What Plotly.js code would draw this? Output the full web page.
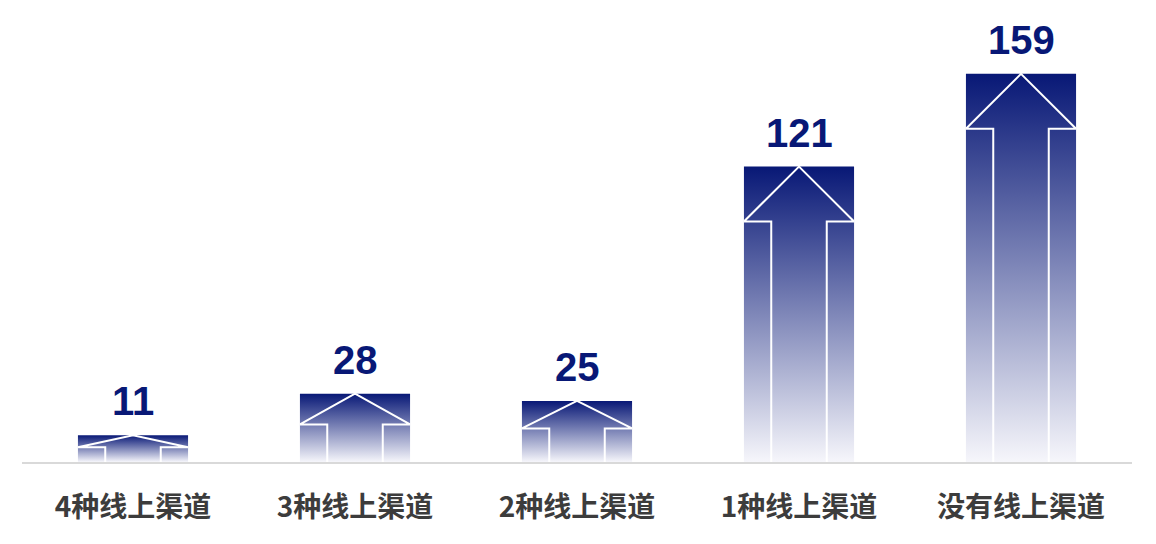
<!DOCTYPE html>
<html>
<head>
<meta charset="utf-8">
<script src="https://cdn.plot.ly/plotly-3.0.1.min.js"></script>
<style>html,body{margin:0;padding:0;background:#fff;}#chart{width:1156px;height:544px;}</style>
</head>
<body>
<div id="chart"></div>
<script>
const categories = ["4种线上渠道", "3种线上渠道", "2种线上渠道", "1种线上渠道", "没有线上渠道"];
const values = [11, 28, 25, 121, 159];

const NAVY = "rgb(8,24,118)";
const HALF = 0.248;      // half bar width (category units)
const SHAFT = 0.125;     // half shaft width
const HEAD_MAX = 22.5;   // max head height (value units)
const HEAD_FRAC = 0.45;

const traces = [];
values.forEach((v, i) => {
  traces.push({
    type: "scatter", mode: "lines",
    x: [i - HALF, i + HALF, i + HALF, i - HALF, i - HALF],
    y: [0, 0, v, v, 0],
    fill: "toself",
    line: {width: 0, color: "rgba(0,0,0,0)"},
    fillgradient: {type: "vertical", colorscale: [[0, "rgb(246,246,251)"], [1, "rgb(8,24,118)"]]},
    hoverinfo: "skip", showlegend: false
  });
  const h = Math.min(v * HEAD_FRAC, HEAD_MAX);
  traces.push({
    type: "scatter", mode: "lines",
    x: [i - SHAFT, i - SHAFT, i - HALF, i, i + HALF, i + SHAFT, i + SHAFT],
    y: [0, v - h, v - h, v, v - h, v - h, 0],
    line: {color: "#ffffff", width: 2},
    hoverinfo: "skip", showlegend: false
  });
});

const annotations = values.map((v, i) => ({
  x: i, y: v, xref: "x", yref: "y",
  text: String(v), showarrow: false, yanchor: "bottom", yshift: 10,
  font: {family: "Liberation Sans, Arial, sans-serif", size: 40, color: NAVY, weight: 700}
}));

const layout = {
  width: 1156, height: 544,
  margin: {l: 22, r: 24, t: 47, b: 82},
  paper_bgcolor: "#ffffff", plot_bgcolor: "#ffffff",
  showlegend: false,
  xaxis: {
    range: [-0.5, 4.5], tickvals: [0, 1, 2, 3, 4], ticktext: categories,
    showgrid: false, zeroline: false, showline: true, linecolor: "#d9d9d9", linewidth: 2,
    ticks: "", ticklabelstandoff: 19, fixedrange: true,
    tickfont: {family: "Noto Sans CJK SC, sans-serif", size: 28, color: "#3c3c3c", weight: 700}
  },
  yaxis: {
    range: [0, 170], visible: false, showgrid: false, zeroline: false, fixedrange: true
  },
  annotations: annotations
};

Plotly.newPlot("chart", traces, layout, {displayModeBar: false, staticPlot: true});
</script>
</body>
</html>
